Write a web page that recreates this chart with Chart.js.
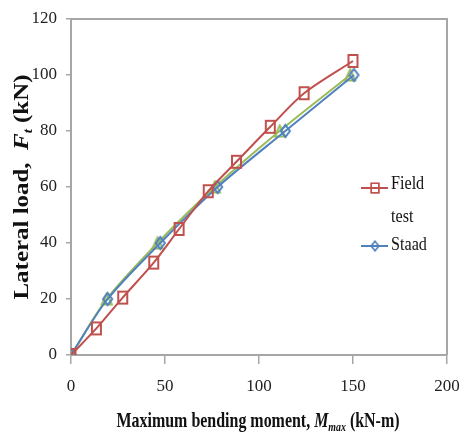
<!DOCTYPE html>
<html>
<head>
<meta charset="utf-8">
<script src="https://cdn.jsdelivr.net/npm/chart.js@4.4.0/dist/chart.umd.min.js"></script>
<style>
  html, body { margin: 0; padding: 0; background: #fff; }
</style>
</head>
<body>
<canvas id="chart" width="462" height="439"></canvas>
<script>
// values
const fieldMoment = [0, 13.5, 27.5, 44, 57.5, 73, 88, 106, 124, 150];
const fieldLoad = [0, 9.5, 20.5, 33, 45, 58.5, 69, 81.5, 93.5, 105];
const staadMoment = [0, 19.5, 47.5, 78, 114, 150.5];
const staadLoad = [0, 20, 40, 60, 80, 100];
const otherMoment = [0, 19, 46, 76.5, 111, 148.5];
const otherLoad = [0, 20, 40, 60, 80, 100];
const xTicks = [0, 50, 100, 150, 200];
const yTicks = [0, 20, 40, 60, 80, 100, 120];
const legendLabels = [['Field', 'test'], ['Staad']];

const RED = '#c0504d';
const BLUE = '#4f81bd';
const GREEN = '#9bbb59';
const AXIS = '#a6a6a6';
const SERIF = "'Liberation Serif', 'Times New Roman', serif";

function points(xs, ys) {
  return xs.map((x, i) => ({ x: x, y: ys[i] }));
}

// the picture is stretched vertically, so markers are taller than wide
function marker(shape, color, w, h) {
  const c = document.createElement('canvas');
  c.width = w + 4;
  c.height = h + 4;
  const ctx = c.getContext('2d');
  const cx = c.width / 2, cy = c.height / 2;
  ctx.strokeStyle = color;
  ctx.lineWidth = 2;
  ctx.beginPath();
  if (shape === 'rect') {
    ctx.rect(cx - w / 2, cy - h / 2, w, h);
  } else if (shape === 'diamond') {
    ctx.moveTo(cx, cy - h / 2);
    ctx.lineTo(cx + w / 2, cy);
    ctx.lineTo(cx, cy + h / 2);
    ctx.lineTo(cx - w / 2, cy);
    ctx.closePath();
  } else {
    ctx.moveTo(cx, cy - h / 2);
    ctx.lineTo(cx + w / 2, cy + h / 2);
    ctx.lineTo(cx - w / 2, cy + h / 2);
    ctx.closePath();
  }
  ctx.stroke();
  return c;
}

const redMarker = marker('rect', RED, 9, 12);
const blueMarker = marker('diamond', BLUE, 9, 12);
const greenMarker = marker('tri', GREEN, 10, 11);

// draw text runs (with sub/italic parts) squeezed or stretched to a width
function drawRuns(ctx, runs, cx, baseline, targetWidth) {
  let total = 0;
  runs.forEach((r) => {
    ctx.font = r.font;
    r.w = ctx.measureText(r.text).width;
    total += r.w;
  });
  const sx = targetWidth / total;
  ctx.save();
  ctx.translate(cx, baseline);
  ctx.scale(sx, 1);
  ctx.textAlign = 'left';
  ctx.textBaseline = 'alphabetic';
  let x = -total / 2;
  runs.forEach((r) => {
    ctx.font = r.font;
    ctx.fillText(r.text, x, r.dy || 0);
    x += r.w;
  });
  ctx.restore();
}

const decorations = {
  id: 'decorations',
  beforeDatasetsDraw(chart) {
    const { ctx, chartArea: a } = chart;
    ctx.save();
    ctx.strokeStyle = AXIS;
    ctx.lineWidth = 2;
    ctx.beginPath();
    ctx.moveTo(a.left, a.top);
    ctx.lineTo(a.right, a.top);
    ctx.lineTo(a.right, a.bottom);
    ctx.stroke();
    ctx.restore();
  },
  afterDraw(chart) {
    const ctx = chart.ctx;
    ctx.save();
    ctx.fillStyle = '#111';

    // x title
    drawRuns(ctx, [
      { text: 'Maximum bending moment, ', font: 'bold 21px ' + SERIF },
      { text: 'M', font: 'italic bold 21px ' + SERIF },
      { text: 'max', font: 'italic bold 13px ' + SERIF, dy: 4 },
      { text: ' (kN-m)', font: 'bold 21px ' + SERIF },
    ], 258, 427, 283);

    // y title
    ctx.save();
    ctx.translate(28, 187);
    ctx.rotate(-Math.PI / 2);
    drawRuns(ctx, [
      { text: 'Lateral load,  ', font: 'bold 20px ' + SERIF },
      { text: 'F', font: 'italic bold 20px ' + SERIF },
      { text: 't', font: 'italic bold 12px ' + SERIF, dy: 4 },
      { text: ' (kN)', font: 'bold 20px ' + SERIF },
    ], 0, 0, 225);
    ctx.restore();

    // legend
    const rows = [
      { color: RED, img: redMarker, y: 188, textY: [184, 217], lines: legendLabels[0] },
      { color: BLUE, img: blueMarker, y: 246, textY: [245], lines: legendLabels[1] },
    ];
    rows.forEach((row) => {
      ctx.strokeStyle = row.color;
      ctx.lineWidth = 2;
      ctx.beginPath();
      ctx.moveTo(361, row.y);
      ctx.lineTo(388, row.y);
      ctx.stroke();
      const w = row.img.width * 0.85, h = row.img.height * 0.8;
      ctx.drawImage(row.img, 375 - w / 2, row.y - h / 2, w, h);
      row.lines.forEach((t, i) => {
        ctx.save();
        ctx.translate(391, row.textY[i]);
        ctx.scale(0.85, 1);
        ctx.font = '19px ' + SERIF;
        ctx.fillStyle = '#111';
        ctx.textBaseline = 'middle';
        ctx.fillText(t, 0, 0);
        ctx.restore();
      });
    });
    ctx.restore();
  },
};

function lineSet(label, xs, ys, color, img) {
  return {
    label: label,
    data: points(xs, ys),
    borderColor: color,
    backgroundColor: color,
    borderWidth: 2,
    tension: 0.3,
    pointStyle: img,
    pointRadius: 6,
    pointHoverRadius: 6,
  };
}

new Chart(document.getElementById('chart').getContext('2d'), {
  type: 'line',
  data: {
    datasets: [
      lineSet('Field test', fieldMoment, fieldLoad, RED, redMarker),
      lineSet('Staad', staadMoment, staadLoad, BLUE, blueMarker),
      lineSet('', otherMoment, otherLoad, GREEN, greenMarker),
    ],
  },
  options: {
    responsive: false,
    animation: false,
    layout: { padding: { left: 0, top: 19, right: 15, bottom: 0 } },
    plugins: {
      legend: { display: false },
      tooltip: { enabled: false },
    },
    scales: {
      x: {
        type: 'linear',
        min: xTicks[0],
        max: xTicks[xTicks.length - 1],
        afterBuildTicks: (s) => { s.ticks = xTicks.map((v) => ({ value: v })); },
        afterFit: (s) => {
          s.height = 84;
          s.paddingLeft = 0;
          s.paddingRight = 0;
        },
        ticks: {
          font: { family: SERIF, size: 17 },
          color: '#222',
          padding: 12,
        },
        grid: {
          drawOnChartArea: false,
          tickLength: 9,
          color: AXIS,
          lineWidth: 1.5,
        },
        border: { color: AXIS, width: 2 },
      },
      y: {
        min: yTicks[0],
        max: yTicks[yTicks.length - 1],
        afterBuildTicks: (s) => { s.ticks = yTicks.map((v) => ({ value: v })); },
        afterFit: (s) => {
          s.width = 71;
          s.paddingTop = 0;
          s.paddingBottom = 0;
        },
        ticks: {
          font: { family: SERIF, size: 17 },
          color: '#222',
          padding: 9,
        },
        grid: {
          drawOnChartArea: false,
          tickLength: 5,
          color: AXIS,
          lineWidth: 1.5,
        },
        border: { color: AXIS, width: 2 },
      },
    },
  },
  plugins: [decorations],
});
</script>
</body>
</html>
